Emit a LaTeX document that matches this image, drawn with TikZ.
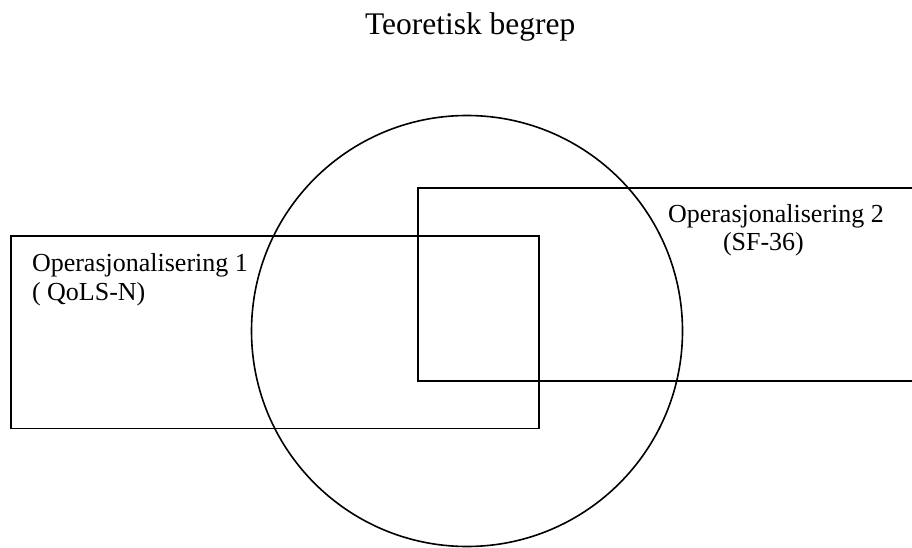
\documentclass[tikz,border=0pt]{standalone}
\usepackage{fontspec}
\setmainfont{Liberation Serif}
\begin{document}
\begin{tikzpicture}[x=1pt,y=-1pt,
  circline/.style={line width=1.6pt, black},
  rectline/.style={line width=1.8pt, black},
  lbl/.style={anchor=base west, inner sep=0pt, outer sep=0pt, font=\fontsize{26}{28}\selectfont},
  ttl/.style={anchor=base west, inner sep=0pt, outer sep=0pt, font=\fontsize{31.5}{34}\selectfont}]
\useasboundingbox (0,0) rectangle (912,548);
% shapes
\draw[circline] (467,331) circle (215.5pt);
\draw[rectline] (11,236) rectangle (539,428.5);
\draw[rectline] (914,188) -- (418,188) -- (418,381) -- (914,381);
% texts
\node[ttl] (title) at (365,34.5) {Teoretisk begrep};
\node[lbl] (op1) at (32,271.7) {Operasjonalisering 1};
\node[lbl] (op1b) at (32,300) {( QoLS-N)};
\node[lbl] (op2) at (668,222.5) {Operasjonalisering 2};
\node[lbl] (op2b) at (723,250) {(SF-36)};
\end{tikzpicture}
\end{document}
